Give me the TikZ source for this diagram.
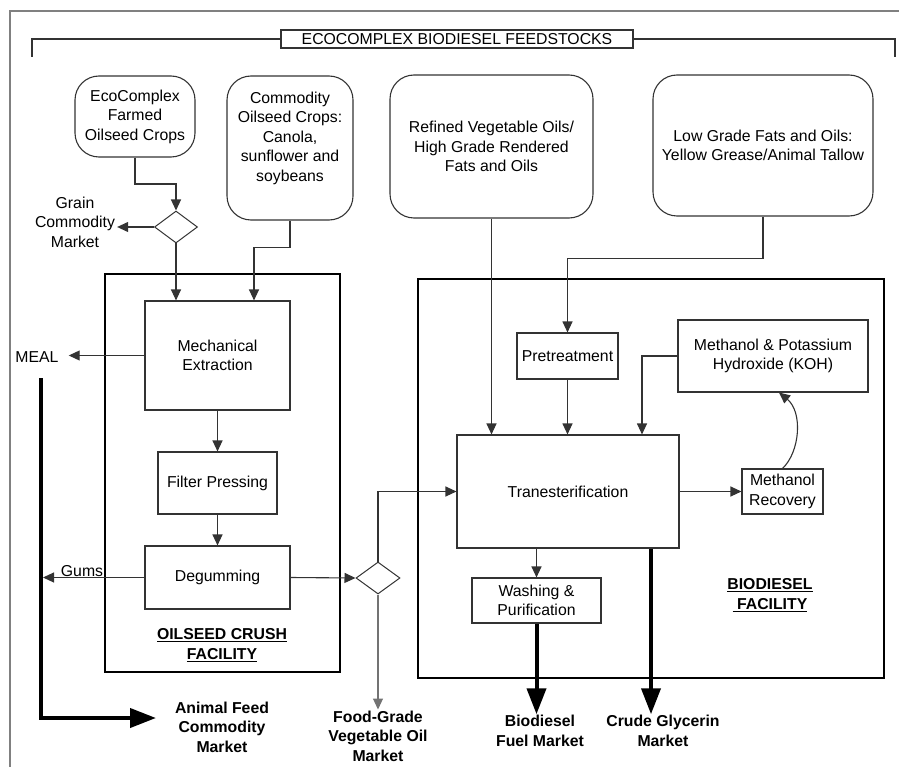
\documentclass[tikz,border=0pt]{standalone}
\usepackage{fontspec}
\setmainfont{Liberation Sans}
\usetikzlibrary{arrows.meta,calc,shapes.geometric}
\newcommand\diagfont{\fontsize{15.8}{19.5}\selectfont}
\tikzset{
  feed/.style={draw=black!80, line width=1.1pt, rounded corners=24pt, align=center, inner sep=0pt},
  stepbox/.style={draw=black!80, line width=1.1pt, align=center, inner sep=0pt},
  facility/.style={draw=black, line width=2.4pt, inner sep=0pt},
  junction/.style={draw=black!80, line width=1pt, diamond, inner sep=0pt},
  market/.style={align=center, font={\diagfont\bfseries}, inner sep=1pt},
  flow/.style={draw=black!80, line width=1.1pt, -{Triangle[length=11pt,width=10pt]}},
  bigflow/.style={draw=black, line width=4pt, -{Triangle[length=26pt,width=19pt]}},
}
\begin{document}
\begin{tikzpicture}[x=1pt, y=-1pt, font=\diagfont]
  %%%%% START %%%%%
  \useasboundingbox (0,0) rectangle (899,767);
  \draw[black!50, line width=1.5pt] (10,767) -- (10,11) -- (899,11);

  % feedstock bracket
  \node[stepbox, minimum width=352pt, minimum height=18pt] (title) at (457,39) {ECOCOMPLEX BIODIESEL FEEDSTOCKS};
  \draw[black!80, line width=1.1pt] (title.west) -- (32,39) -- (32,57);
  \draw[black!80, line width=1.1pt] (title.east) -- (895,39) -- (895,57);

  \node[feed, minimum width=120pt, minimum height=81pt] (farmed) at (135,116.5) {EcoComplex\\Farmed\\Oilseed Crops};
  \node[feed, minimum width=126pt, minimum height=144pt] (commodity) at (290,148) {};
  \node[align=center] (commoditytext) at (290,138) {Commodity\\Oilseed Crops:\\Canola,\\sunflower and\\soybeans};
  \node[feed, minimum width=203pt, minimum height=143pt] (refined) at (491.5,146.5) {Refined Vegetable Oils/\\High Grade Rendered\\Fats and Oils};
  \node[feed, minimum width=220pt, minimum height=141pt] (lowgrade) at (763,145.5) {Low Grade Fats and Oils:\\Yellow Grease/Animal Tallow};

  % facilities
  \node[facility, minimum width=235pt, minimum height=398pt] (crush) at (222.5,473) {};
  \node[facility, minimum width=466pt, minimum height=399pt] (plant) at (651,478.5) {};

  \node[stepbox, minimum width=145pt, minimum height=109pt] (extract) at (217.5,355.5) {Mechanical\\Extraction};
  \node[stepbox, minimum width=119pt, minimum height=62pt] (filter) at (217.5,483) {Filter Pressing};
  \node[stepbox, minimum width=145pt, minimum height=63pt] (degum) at (217.5,577.5) {Degumming};
  \node[stepbox, minimum width=101pt, minimum height=46pt] (pretreat) at (567.5,356) {Pretreatment};
  \node[stepbox, minimum width=190pt, minimum height=72pt] (reagents) at (773,356) {Methanol \& Potassium\\Hydroxide (KOH)};
  \node[stepbox, minimum width=222pt, minimum height=113pt] (transest) at (568,491.5) {Tranesterification};
  \node[stepbox, minimum width=81pt, minimum height=45pt] (recovery) at (782.5,491.5) {Methanol\\Recovery};
  \node[stepbox, minimum width=129pt, minimum height=45pt] (washing) at (536.5,600.5) {Washing \&\\Purification};

  \node[junction, minimum width=43pt, minimum height=32pt] (grainsplit) at (176,227) {};
  \node[junction, minimum width=44pt, minimum height=32pt] (oilsplit) at (378,578) {};

  % outputs
  \node[align=center, inner sep=2pt] (grain) at (75,222) {Grain\\Commodity\\Market};
  \node[inner xsep=10pt] (meal) at (37,357) {MEAL};
  \node (gums) at (82,571) {Gums};
  \node[market] (feedmkt) at (222,727) {Animal Feed\\Commodity\\Market};
  \node[market] (foodmkt) at (378,736) {Food-Grade\\Vegetable Oil\\Market};
  \node[market] (fuelmkt) at (540,731) {Biodiesel\\Fuel Market};
  \node[market] (glymkt) at (663,731) {Crude Glycerin\\Market};
  \node[market] (crushlabel) at (222,645) {\underline{OILSEED CRUSH}\\\underline{FACILITY}};
  \node[market] (plantlabel) at (770,595) {\underline{BIODIESEL}\\\underline{\ FACILITY}};

  \coordinate (mealtop) at (41,378);
  \coordinate (feedtip) at (156,718);
  \coordinate (glytop) at ($(transest.south)+(83,0)$);

  % crush side
  \draw[flow] (farmed.south) -- ++(0,26.5) -| (grainsplit.north);
  \draw[flow] (grainsplit.west) -- (grainsplit.west -| grain.east);
  \draw[flow] (grainsplit.south) -- (grainsplit.south |- extract.north);
  \draw[flow] (commodity.south) -- ++(0,27) -| ($(extract.north)+(36.5,0)$);
  \draw[flow] (extract.west) -- (extract.west -| meal.east);
  \draw[flow] (extract.south) -- (filter.north);
  \draw[flow] (filter.south) -- (degum.north);
  \draw[flow] (degum.west) -- ($(degum.west -| mealtop)+(2,0)$);
  \draw[flow] (degum.east) -- (oilsplit.west);
  \draw[flow] (oilsplit.north) |- (transest.west);
  \draw[flow, draw=black!55] (oilsplit.south) -- (foodmkt.north);
  \draw[bigflow] (mealtop) |- (feedtip);

  % biodiesel side
  \draw[flow] (refined.south) -- (refined.south |- transest.north);
  \draw[flow] (lowgrade.south) -- ++(0,42) -| (pretreat.north);
  \draw[flow] (pretreat.south) -- (pretreat.south |- transest.north);
  \draw[flow] (reagents.west) -| ($(transest.north)+(74,0)$);
  \draw[flow] (transest.east) -- (recovery.west);
  \draw[flow] (recovery.north) .. controls (800,452) and (803,412) .. ($(reagents.south)+(6,0)$);
  \draw[flow] (washing.north |- transest.south) -- (washing.north);
  \draw[bigflow] (washing.south) -- (washing.south |- fuelmkt.north);
  \draw[bigflow] (glytop) -- (glytop |- glymkt.north);
  %%%%% END %%%%%
\end{tikzpicture}
\end{document}
